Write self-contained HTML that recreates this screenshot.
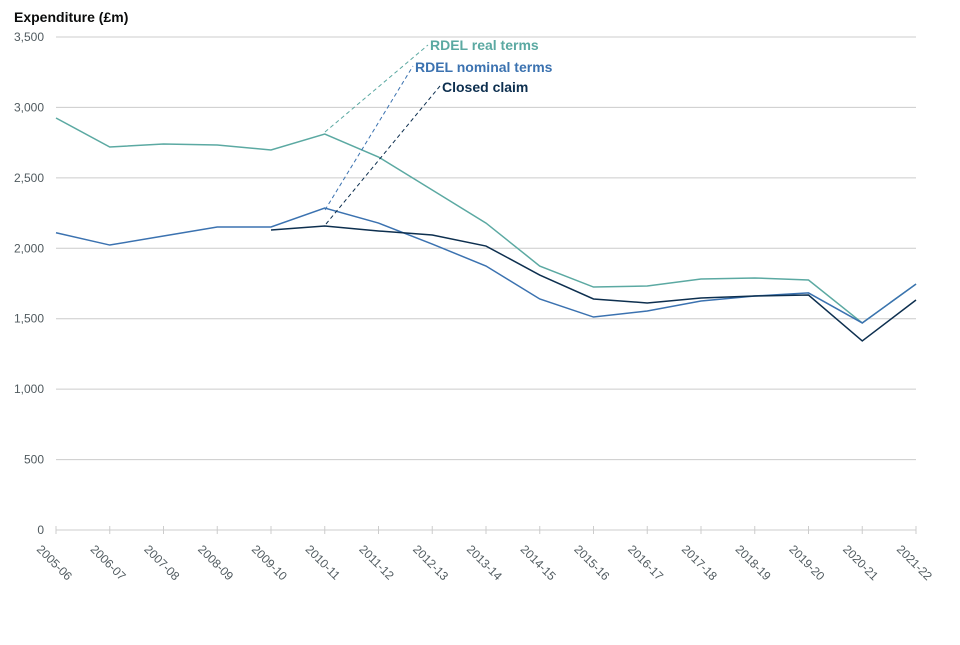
<!DOCTYPE html>
<html><head><meta charset="utf-8"><style>
body{margin:0;background:#fff;}
svg{font-family:"Liberation Sans",Arial,sans-serif;}
</style></head><body>
<svg id="chart" width="960" height="640" viewBox="0 0 960 640">
<text x="14" y="22" font-size="14" font-weight="bold" fill="#0b0c0c">Expenditure (£m)</text>
<g id="grid"></g><g id="xaxis"></g><g id="lines"></g>
<g>
<line x1="325" y1="132" x2="428" y2="45" stroke="#5ba9a2" stroke-dasharray="4,3"/>
<line x1="325" y1="210" x2="413" y2="66" stroke="#3b72b0" stroke-dasharray="4,3"/>
<line x1="326" y1="224" x2="440" y2="86" stroke="#0d2f4f" stroke-dasharray="4,3"/>
<text x="430" y="50" font-size="14" font-weight="bold" fill="#5ba9a2">RDEL real terms</text>
<text x="415" y="72" font-size="14" font-weight="bold" fill="#3b72b0">RDEL nominal terms</text>
<text x="442" y="92" font-size="14" font-weight="bold" fill="#0d2f4f">Closed claim</text>
</g>
</svg>
<script>
const categories=["2005-06","2006-07","2007-08","2008-09","2009-10","2010-11","2011-12","2012-13","2013-14","2014-15","2015-16","2016-17","2017-18","2018-19","2019-20","2020-21","2021-22"];
const realTerms=[2925,2719,2740,2733,2698,2811,2648,2414,2179,1874,1725,1732,1782,1789,1775,1470,1746];
const nominalTerms=[2110,2023,2087,2151,2151,2286,2179,2030,1874,1640,1512,1555,1626,1661,1683,1470,1746];
const closedClaim=[null,null,null,null,2130,2158,2123,2094,2016,1810,1640,1612,1647,1661,1668,1342,1633];
const yTicks=[0,500,1000,1500,2000,2500,3000,3500];
const yTickLabels=["0","500","1,000","1,500","2,000","2,500","3,000","3,500"];
const NS="http://www.w3.org/2000/svg";
const x0=56,x1=916,yb=530,yt=37,ymax=3500;
const xs=i=>x0+i*(x1-x0)/(categories.length-1);
const ys=v=>yb-v*(yb-yt)/ymax;
function mk(t,a,p){const e=document.createElementNS(NS,t);for(const k in a)e.setAttribute(k,a[k]);p.appendChild(e);return e;}
const grid=document.getElementById('grid');
yTicks.forEach((v,i)=>{
 const l=mk('line',{x1:x0,x2:x1,y1:ys(v),y2:ys(v),stroke:'#cccccc'},grid);
 
 
 const t=mk('text',{x:44,y:ys(v)+4,'text-anchor':'end','font-size':12,fill:'#505a5f'},grid);
 t.textContent=yTickLabels[i];
 
 
});
const xa=document.getElementById('xaxis');
categories.forEach((c,i)=>{
 const x=xs(i);
 const tk=mk('line',{x1:x,x2:x,y1:yb-4,y2:yb+4,stroke:'#cccccc'},xa);
 
 
 const t=mk('text',{x:x-20,y:550,'font-size':12,fill:'#505a5f',transform:`rotate(45 ${x-20} 550)`},xa);
 t.textContent=c;
 
 
});
const lg=document.getElementById('lines');
function drawLine(arr,color,name){
 let d='';arr.forEach((v,i)=>{if(v==null)return;d+=(d?'L':'M')+xs(i)+','+ys(v);});
 const p=mk('path',{d:d,fill:'none',stroke:color,'stroke-width':1.5},lg);
 
 
}
drawLine(realTerms,'#5ba9a2','line-rdel-real-terms');
drawLine(nominalTerms,'#3b72b0','line-rdel-nominal-terms');
drawLine(closedClaim,'#0d2f4f','line-closed-claim');
</script>
</body></html>
